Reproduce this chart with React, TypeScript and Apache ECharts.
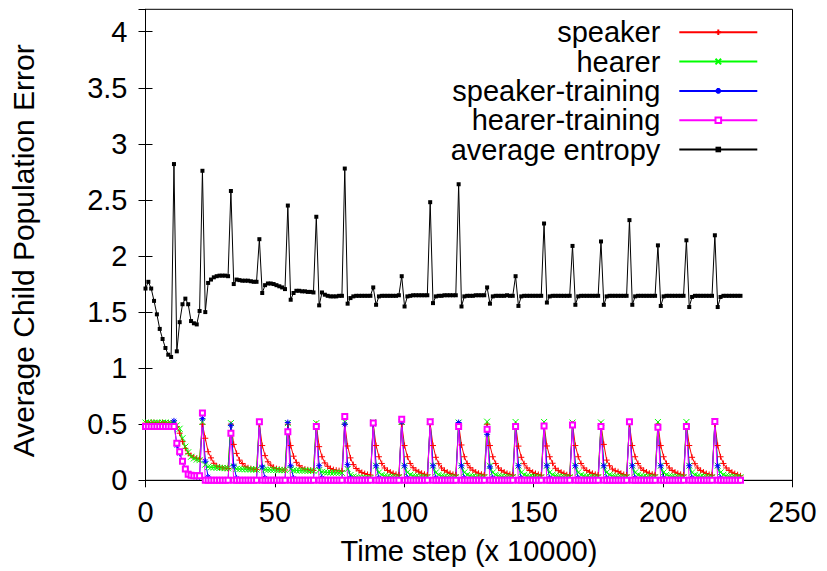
import React, { useEffect, useRef } from "react";
import * as echarts from "echarts";

// Time step (x 10000): samples every 1.1 units
const X_TICKS = [0, 50, 100, 150, 200, 250];
const Y_TICKS = [0, 0.5, 1, 1.5, 2, 2.5, 3, 3.5, 4];

const SPEAKER = [
  0.51, 0.51, 0.515, 0.515, 0.51, 0.51, 0.515, 0.51, 0.51, 0.51,
  0.51, 0.48, 0.42, 0.345, 0.285, 0.24, 0.22, 0.205, 0.196, 0.19,
  0.5, 0.375, 0.255, 0.2, 0.152, 0.128, 0.118, 0.112, 0.108, 0.105,
  0.5, 0.32, 0.24, 0.18, 0.15, 0.125, 0.112, 0.104, 0.1, 0.097,
  0.5, 0.31, 0.22, 0.165, 0.135, 0.115, 0.104, 0.098, 0.094, 0.092,
  0.5, 0.31, 0.215, 0.16, 0.13, 0.11, 0.1, 0.094, 0.09, 0.088,
  0.5, 0.3, 0.21, 0.155, 0.125, 0.105, 0.095, 0.09, 0.086, 0.083,
  0.5, 0.306, 0.2, 0.14, 0.105, 0.085, 0.07, 0.06, 0.052, 0.047,
  0.5, 0.31, 0.21, 0.15, 0.11, 0.088, 0.073, 0.062, 0.053, 0.047,
  0.5, 0.31, 0.21, 0.15, 0.112, 0.09, 0.075, 0.063, 0.054, 0.048,
  0.5, 0.31, 0.205, 0.148, 0.11, 0.088, 0.073, 0.062, 0.053, 0.047,
  0.5, 0.315, 0.21, 0.15, 0.112, 0.09, 0.074, 0.063, 0.054, 0.048,
  0.5, 0.31, 0.21, 0.15, 0.11, 0.088, 0.073, 0.062, 0.053, 0.047,
  0.5, 0.305, 0.205, 0.148, 0.11, 0.087, 0.072, 0.061, 0.052, 0.046,
  0.5, 0.306, 0.21, 0.152, 0.107, 0.086, 0.072, 0.062, 0.05, 0.044,
  0.5, 0.31, 0.21, 0.15, 0.11, 0.088, 0.073, 0.062, 0.053, 0.047,
  0.5, 0.32, 0.18, 0.13, 0.1, 0.085, 0.077, 0.062, 0.052, 0.047,
  0.5, 0.31, 0.21, 0.15, 0.11, 0.088, 0.074, 0.063, 0.054, 0.048,
  0.5, 0.31, 0.21, 0.15, 0.11, 0.088, 0.073, 0.062, 0.053, 0.047,
  0.5, 0.31, 0.205, 0.148, 0.11, 0.088, 0.073, 0.061, 0.052, 0.046,
  0.5, 0.31, 0.21, 0.15, 0.11, 0.088, 0.072, 0.06, 0.05, 0.04,
];

const HEARER = [
  0.515, 0.515, 0.51, 0.515, 0.515, 0.51, 0.515, 0.515, 0.51, 0.51,
  0.51, 0.49, 0.46, 0.375, 0.3, 0.25, 0.21, 0.195, 0.185, 0.18,
  0.52, 0.14, 0.12, 0.116, 0.114, 0.112, 0.11, 0.11, 0.108, 0.107,
  0.51, 0.12, 0.102, 0.1, 0.099, 0.098, 0.097, 0.097, 0.096, 0.095,
  0.52, 0.11, 0.096, 0.094, 0.093, 0.092, 0.092, 0.091, 0.09, 0.09,
  0.51, 0.1, 0.09, 0.088, 0.087, 0.086, 0.086, 0.085, 0.085, 0.084,
  0.51, 0.09, 0.076, 0.072, 0.07, 0.069, 0.068, 0.068, 0.067, 0.066,
  0.52, 0.1, 0.047, 0.034, 0.028, 0.025, 0.023, 0.022, 0.021, 0.02,
  0.52, 0.13, 0.07, 0.05, 0.04, 0.035, 0.032, 0.03, 0.028, 0.027,
  0.52, 0.13, 0.07, 0.05, 0.04, 0.035, 0.032, 0.03, 0.028, 0.027,
  0.525, 0.13, 0.07, 0.05, 0.04, 0.035, 0.032, 0.03, 0.028, 0.027,
  0.515, 0.13, 0.07, 0.05, 0.04, 0.035, 0.032, 0.03, 0.028, 0.027,
  0.523, 0.13, 0.07, 0.05, 0.04, 0.035, 0.032, 0.03, 0.028, 0.027,
  0.52, 0.13, 0.07, 0.05, 0.04, 0.035, 0.032, 0.03, 0.028, 0.027,
  0.52, 0.13, 0.07, 0.05, 0.04, 0.035, 0.032, 0.03, 0.028, 0.027,
  0.515, 0.13, 0.07, 0.05, 0.04, 0.035, 0.032, 0.03, 0.028, 0.027,
  0.515, 0.13, 0.07, 0.05, 0.04, 0.035, 0.032, 0.03, 0.028, 0.027,
  0.52, 0.13, 0.07, 0.05, 0.04, 0.035, 0.032, 0.03, 0.028, 0.027,
  0.52, 0.13, 0.07, 0.05, 0.04, 0.035, 0.032, 0.03, 0.028, 0.027,
  0.52, 0.13, 0.07, 0.05, 0.04, 0.035, 0.032, 0.03, 0.028, 0.027,
  0.525, 0.13, 0.07, 0.05, 0.04, 0.035, 0.032, 0.03, 0.028, 0.027,
];

const SPEAKER_TRAINING = [
  0.485, 0.48, 0.48, 0.48, 0.48, 0.48, 0.48, 0.48, 0.48, 0.48,
  0.53, 0.31, 0.24, 0.17, 0.1, 0.06, 0.04, 0.035, 0.03, 0.03,
  0.55, 0.17, 0.03, 0, 0, 0, 0, 0, 0, 0,
  0.49, 0.13, 0.02, 0, 0, 0, 0, 0, 0, 0,
  0.52, 0.12, 0.02, 0, 0, 0, 0, 0, 0, 0,
  0.515, 0.13, 0.02, 0, 0, 0, 0, 0, 0, 0,
  0.48, 0.13, 0.02, 0, 0, 0, 0, 0, 0, 0,
  0.5, 0.14, 0.02, 0, 0, 0, 0, 0, 0, 0,
  0.5, 0.13, 0.02, 0, 0, 0, 0, 0, 0, 0,
  0.52, 0.13, 0.02, 0, 0, 0, 0, 0, 0, 0,
  0.52, 0.13, 0.02, 0, 0, 0, 0, 0, 0, 0,
  0.515, 0.13, 0.02, 0, 0, 0, 0, 0, 0, 0,
  0.41, 0.12, 0.02, 0, 0, 0, 0, 0, 0, 0,
  0.48, 0.13, 0.02, 0, 0, 0, 0, 0, 0, 0,
  0.485, 0.13, 0.02, 0, 0, 0, 0, 0, 0, 0,
  0.49, 0.13, 0.02, 0, 0, 0, 0, 0, 0, 0,
  0.48, 0.13, 0.02, 0, 0, 0, 0, 0, 0, 0,
  0.52, 0.13, 0.02, 0, 0, 0, 0, 0, 0, 0,
  0.47, 0.13, 0.02, 0, 0, 0, 0, 0, 0, 0,
  0.48, 0.13, 0.02, 0, 0, 0, 0, 0, 0, 0,
  0.52, 0.13, 0.02, 0, 0, 0, 0, 0, 0, 0,
];

const HEARER_TRAINING = [
  0.48, 0.48, 0.48, 0.48, 0.48, 0.48, 0.48, 0.48, 0.48, 0.48,
  0.48, 0.33, 0.255, 0.17, 0.1, 0.055, 0.045, 0.04, 0.04, 0.04,
  0.6, 0, 0, 0, 0, 0, 0, 0, 0, 0,
  0.42, 0, 0, 0, 0, 0, 0, 0, 0, 0,
  0.523, 0, 0, 0, 0, 0, 0, 0, 0, 0,
  0.434, 0, 0, 0, 0, 0, 0, 0, 0, 0,
  0.48, 0, 0, 0, 0, 0, 0, 0, 0, 0,
  0.568, 0, 0, 0, 0, 0, 0, 0, 0, 0,
  0.51, 0, 0, 0, 0, 0, 0, 0, 0, 0,
  0.545, 0, 0, 0, 0, 0, 0, 0, 0, 0,
  0.523, 0, 0, 0, 0, 0, 0, 0, 0, 0,
  0.48, 0, 0, 0, 0, 0, 0, 0, 0, 0,
  0.455, 0, 0, 0, 0, 0, 0, 0, 0, 0,
  0.48, 0, 0, 0, 0, 0, 0, 0, 0, 0,
  0.485, 0, 0, 0, 0, 0, 0, 0, 0, 0,
  0.494, 0, 0, 0, 0, 0, 0, 0, 0, 0,
  0.48, 0, 0, 0, 0, 0, 0, 0, 0, 0,
  0.523, 0, 0, 0, 0, 0, 0, 0, 0, 0,
  0.473, 0, 0, 0, 0, 0, 0, 0, 0, 0,
  0.48, 0, 0, 0, 0, 0, 0, 0, 0, 0,
  0.525, 0, 0, 0, 0, 0, 0, 0, 0, 0,
];

const AVERAGE_ENTROPY = [
  1.71, 1.77, 1.71, 1.6, 1.48, 1.35, 1.26, 1.18, 1.12, 1.1,
  2.82, 1.15, 1.41, 1.57, 1.62, 1.57, 1.42, 1.4, 1.39, 1.51,
  2.76, 1.5, 1.76, 1.79, 1.81, 1.82, 1.825, 1.825, 1.825, 1.82,
  2.58, 1.75, 1.79, 1.785, 1.78, 1.78, 1.78, 1.775, 1.77, 1.77,
  2.15, 1.67, 1.74, 1.755, 1.755, 1.75, 1.74, 1.73, 1.72, 1.705,
  2.45, 1.61, 1.67, 1.69, 1.69, 1.685, 1.685, 1.68, 1.68, 1.675,
  2.35, 1.56, 1.675, 1.655, 1.645, 1.64, 1.64, 1.64, 1.645, 1.645,
  2.78, 1.575, 1.625, 1.64, 1.645, 1.645, 1.645, 1.645, 1.645, 1.645,
  1.72, 1.565, 1.64, 1.645, 1.645, 1.645, 1.645, 1.645, 1.645, 1.65,
  1.82, 1.55, 1.64, 1.645, 1.65, 1.65, 1.65, 1.65, 1.65, 1.65,
  2.48, 1.58, 1.64, 1.645, 1.645, 1.65, 1.65, 1.65, 1.65, 1.65,
  2.64, 1.55, 1.64, 1.645, 1.645, 1.645, 1.65, 1.65, 1.65, 1.65,
  1.72, 1.575, 1.64, 1.645, 1.645, 1.645, 1.645, 1.65, 1.645, 1.645,
  1.82, 1.555, 1.64, 1.645, 1.645, 1.645, 1.645, 1.645, 1.645, 1.645,
  2.29, 1.585, 1.64, 1.645, 1.645, 1.645, 1.645, 1.645, 1.645, 1.645,
  2.09, 1.565, 1.64, 1.645, 1.645, 1.645, 1.645, 1.645, 1.645, 1.645,
  2.13, 1.565, 1.64, 1.645, 1.645, 1.645, 1.645, 1.645, 1.645, 1.645,
  2.32, 1.565, 1.64, 1.645, 1.645, 1.645, 1.645, 1.645, 1.645, 1.645,
  2.095, 1.555, 1.64, 1.645, 1.645, 1.645, 1.645, 1.645, 1.645, 1.645,
  2.14, 1.545, 1.635, 1.645, 1.645, 1.645, 1.645, 1.645, 1.645, 1.645,
  2.185, 1.545, 1.635, 1.645, 1.645, 1.645, 1.645, 1.645, 1.645, 1.645,
];

// sample positions along the time axis (x 10000)
const TIME = AVERAGE_ENTROPY.map((_, i) => Math.round(i * 11) / 10);

const FONT = "'Liberation Sans', Arial, Helvetica, sans-serif";
const FS = 29;

const PLUS = "path://M0,5L10,5M5,0L5,10";
const CROSS = "path://M1,1L9,9M1,9L9,1";
const STAR = "path://M0,5L10,5M5,0L5,10M1.5,1.5L8.5,8.5M1.5,8.5L8.5,1.5";

function makeSeries(name: string, values: number[], color: string, symbol: string, size: number, filled: boolean) {
  return {
    name,
    type: "line",
    data: values.map((v, i) => [TIME[i], v]),
    symbol,
    symbolSize: size,
    showSymbol: true,
    lineStyle: { color, width: 1 },
    itemStyle: filled
      ? { color, borderWidth: 0 }
      : { color, borderColor: color, borderWidth: 1 },
    emphasis: { disabled: true },
    silent: true,
  };
}

export default function App() {
  const ref = useRef<HTMLDivElement>(null);
  useEffect(() => {
    if (!ref.current) return;
    const chart = echarts.init(ref.current, null, { renderer: "svg" });
    const tickStyle = { show: true, inside: true, length: 7, lineStyle: { color: "#000", width: 1 } };
    const axisLine = { show: true, lineStyle: { color: "#000", width: 1 } };
    chart.setOption({
      animation: false,
      backgroundColor: "#ffffff",
      textStyle: { fontFamily: FONT },
      grid: {
        left: 145.5,
        right: 34.5,
        top: 9.3,
        bottom: 90.7,
        show: true,
        borderColor: "#000",
        borderWidth: 1,
        backgroundColor: "transparent",
        outerBoundsMode: "none",
      },
      legend: {
        orient: "vertical",
        right: 68.7,
        top: 17.8,
        align: "right",
        padding: 0,
        itemWidth: 78,
        itemHeight: 7,
        itemGap: 0.3,
        selectedMode: false,
        textStyle: { fontFamily: FONT, fontSize: FS, color: "#000", lineHeight: 29, padding: [0, 14, 0, 0] },
        data: ["speaker", "hearer", "speaker-training", "hearer-training", "average entropy"],
      },
      xAxis: [
        {
          type: "value",
          min: X_TICKS[0],
          max: X_TICKS[X_TICKS.length - 1],
          interval: 50,
          position: "bottom",
          axisLine,
          axisTick: tickStyle,
          splitLine: { show: false },
          axisLabel: { fontFamily: FONT, fontSize: FS, color: "#000", margin: 17 },
          name: "Time step (x 10000)",
          nameLocation: "middle",
          nameGap: 56,
          nameTextStyle: { fontFamily: FONT, fontSize: FS, color: "#000" },
        },
        {
          type: "value",
          min: X_TICKS[0],
          max: X_TICKS[X_TICKS.length - 1],
          interval: 50,
          position: "top",
          axisLine,
          axisTick: tickStyle,
          splitLine: { show: false },
          axisLabel: { show: false },
        },
      ],
      yAxis: [
        {
          type: "value",
          min: Y_TICKS[0],
          max: 4.2,
          interval: 0.5,
          position: "left",
          axisLine,
          axisTick: tickStyle,
          splitLine: { show: false },
          axisLabel: {
            fontFamily: FONT,
            fontSize: FS,
            color: "#000",
            margin: 18,
            showMaxLabel: false,
            formatter: (v: number) => (Y_TICKS.indexOf(v) >= 0 ? String(v) : ""),
          },
          name: "Average Child Population Error",
          nameLocation: "middle",
          nameGap: 107,
          nameTextStyle: { fontFamily: FONT, fontSize: 30, color: "#000", padding: [0, 12, 0, 0] },
        },
        {
          type: "value",
          min: Y_TICKS[0],
          max: 4.2,
          interval: 0.5,
          position: "right",
          axisLine,
          axisTick: tickStyle,
          splitLine: { show: false },
          axisLabel: { show: false },
        },
      ],
      series: [
        makeSeries("speaker", SPEAKER, "#ff0000", PLUS, 6, false),
        makeSeries("hearer", HEARER, "#00ff00", CROSS, 6, false),
        makeSeries("speaker-training", SPEAKER_TRAINING, "#0000ff", STAR, 6, false),
        makeSeries("hearer-training", HEARER_TRAINING, "#ff00ff", "emptyRect", 5, false),
        makeSeries("average entropy", AVERAGE_ENTROPY, "#000000", "rect", 4, true),
      ],
    });
    return () => chart.dispose();
  }, []);
  return <div ref={ref} style={{ width: 827, height: 571, position: "absolute", left: 0, top: 0 }} />;
}
